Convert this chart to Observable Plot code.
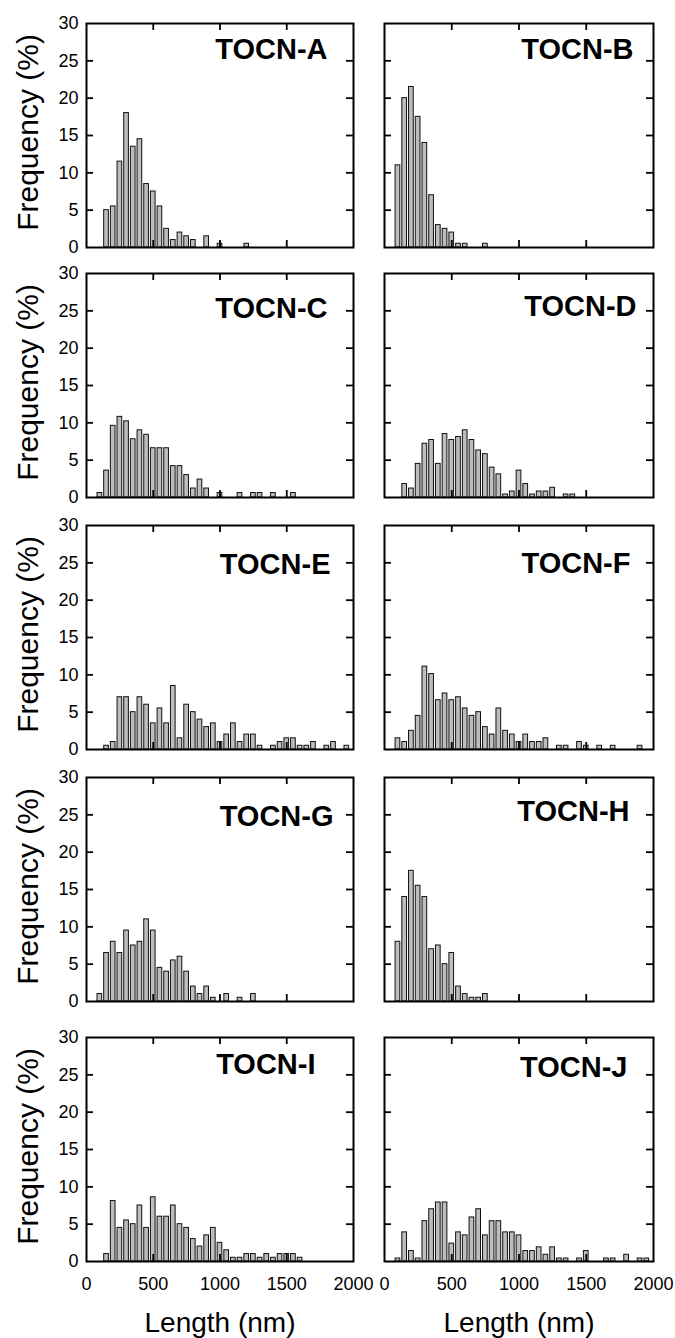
<!DOCTYPE html>
<html><head><meta charset="utf-8">
<script src="https://cdn.jsdelivr.net/npm/d3@7"></script>
<script src="https://cdn.jsdelivr.net/npm/@observablehq/plot@0.6"></script>
<style>
body{margin:0;background:#fff;}
#root{position:relative;width:675px;height:1338px;overflow:hidden;font-family:"Liberation Sans",Arial,sans-serif;}
#root svg{position:absolute;}
</style></head><body><div id="root"></div>
<script>
// ---- data ----
const names = ["TOCN-A","TOCN-B","TOCN-C","TOCN-D","TOCN-E","TOCN-F","TOCN-G","TOCN-H","TOCN-I","TOCN-J"];
const lenA = [150,200,250,300,350,400,450,500,550,600,650,700,750,800,900,1000,1200];
const pctA = [5.0,5.5,11.5,18.0,13.5,14.5,8.5,7.5,5.5,2.5,1.0,2.0,1.5,1.0,1.5,0.5,0.5];
const lenB = [100,150,200,250,300,350,400,450,500,550,600,750];
const pctB = [11,20,21.5,17.5,14,7,3,2.5,2,0.5,0.5,0.5];
const lenC = [100,150,200,250,300,350,400,450,500,550,600,650,700,750,800,850,900,1000,1150,1250,1300,1400,1550];
const pctC = [0.6,3.6,9.6,10.8,10.2,7.8,9.0,8.4,6.6,6.6,6.6,4.2,4.2,3.0,1.2,2.4,1.2,0.6,0.6,0.6,0.6,0.6,0.6];
const lenD = [150,200,250,300,350,400,450,500,550,600,650,700,750,800,850,900,950,1000,1050,1100,1150,1200,1250,1350,1400];
const pctD = [1.8,1.2,4.5,7.2,7.7,4.5,8.5,7.7,8.1,9.0,7.7,6.3,5.8,4.0,3.1,0.4,0.8,3.6,1.8,0.4,0.8,0.8,1.3,0.4,0.4];
const lenE = [150,200,250,300,350,400,450,500,550,600,650,700,750,800,850,900,950,1000,1050,1100,1150,1200,1250,1300,1400,1450,1500,1550,1600,1650,1700,1800,1850,1950];
const pctE = [0.5,1.0,7.0,7.0,5.0,7.0,6.0,3.5,5.5,3.5,8.5,1.5,6.0,5.0,4.0,3.0,3.5,1.0,2.0,3.5,1.0,2.0,2.0,0.5,0.5,1.0,1.5,1.5,0.5,0.5,1.0,0.5,1.0,0.5];
const lenF = [100,150,200,250,300,350,400,450,500,550,600,650,700,750,800,850,900,950,1000,1050,1100,1150,1200,1300,1350,1450,1500,1600,1700,1900];
const pctF = [1.5,1.0,2.5,4.5,11.1,10.1,6.6,7.5,6.6,7.0,5.5,4.5,5.0,3.0,2.0,5.5,2.5,2.0,1.0,2.0,1.0,1.0,1.5,0.5,0.5,1.0,0.5,0.5,0.5,0.5];
const lenG = [100,150,200,250,300,350,400,450,500,550,600,650,700,750,800,850,900,950,1050,1150,1250];
const pctG = [1.0,6.5,8.0,6.5,9.5,7.5,8.0,11.0,9.5,4.5,4.0,5.5,6.0,4.0,2.0,1.0,2.0,0.5,1.0,0.5,1.0];
const lenH = [100,150,200,250,300,350,400,450,500,550,600,650,700,750];
const pctH = [8.0,14.0,17.5,15.5,14.0,7.0,7.5,5.0,6.5,2.0,1.0,0.5,0.5,1.0];
const lenI = [150,200,250,300,350,400,450,500,550,600,650,700,750,800,850,900,950,1000,1050,1100,1150,1200,1250,1300,1350,1400,1450,1500,1550,1600];
const pctI = [1.0,8.1,4.5,5.5,5.0,7.5,4.5,8.6,6.0,6.0,7.5,5.0,4.5,3.0,2.0,3.5,4.5,2.5,1.5,0.5,0.5,1.0,1.0,0.5,1.0,0.5,1.0,1.0,1.0,0.5];
const lenJ = [100,150,200,250,300,350,400,450,500,550,600,650,700,750,800,850,900,950,1000,1050,1100,1150,1200,1250,1300,1350,1450,1500,1650,1700,1800,1900,1950];
const pctJ = [0.4,3.9,1.4,0.4,5.4,7.0,7.9,7.9,2.4,3.9,3.5,5.9,7.0,3.5,5.4,5.4,3.9,3.9,3.5,1.4,1.4,1.9,0.9,1.9,0.4,0.4,0.4,1.4,0.4,0.4,0.9,0.4,0.4];
const xTicks = [0,500,1000,1500,2000];
const yTicks = [0,5,10,15,20,25,30];
const xLabel = "Length (nm)";
const yLabel = "Frequency (%)";

// ---- layout ----
const lens = [lenA,lenB,lenC,lenD,lenE,lenF,lenG,lenH,lenI,lenJ];
const pcts = [pctA,pctB,pctC,pctD,pctE,pctF,pctG,pctH,pctI,pctJ];
const FONT = "'Liberation Sans', Arial, sans-serif";
const colFrameLeft = [86, 384];
const colFrameW = [267, 269];
const rowFrameTop = [23, 273, 525, 777, 1037];
const frameH = 224;
const titleInset = [26,20,26,17,23,23,20,24,38,26];
const titleBase = [35,35,44,42,48,47,48,43,36,39];
const HALF = 17.5; // half bar width in nm
const TICK = 7;

const root = document.getElementById("root");
names.forEach((name, i) => {
  const col = i % 2, row = Math.floor(i / 2);
  const bottomRow = row === 4;
  const fw = colFrameW[col];
  const marginLeft = col === 0 ? 86 : 18;
  const marginRight = col === 0 ? 17 : 22;
  const marginTop = 6;
  const marginBottom = bottomRow ? 80 : 6;
  const svgLeft = colFrameLeft[col] - marginLeft;
  const svgTop = rowFrameTop[row] - marginTop;
  const data = lens[i].map((l, k) => ({len: l, pct: pcts[i][k]}));
  const xInner = xTicks.slice(1, -1), yInner = yTicks.slice(1, -1);
  const marks = [
    Plot.rect(data, {x1: d => d.len - HALF, x2: d => d.len + HALF, y1: 0, y2: "pct", fill: "#bdbdbd", stroke: "#111", strokeWidth: 1}),
    Plot.tickX(xInner, {x: d => d, insetTop: frameH - TICK, stroke: "black", strokeWidth: 1.8}),
    Plot.tickX(xInner, {x: d => d, insetBottom: frameH - TICK, stroke: "black", strokeWidth: 1.8}),
    Plot.tickY(yInner, {y: d => d, insetRight: fw - TICK, stroke: "black", strokeWidth: 1.8}),
    Plot.tickY(yInner, {y: d => d, insetLeft: fw - TICK, stroke: "black", strokeWidth: 1.8}),
    Plot.frame({stroke: "black", strokeWidth: 2}),
    Plot.text([name], {text: d => d, frameAnchor: "top-right", textAnchor: "end", lineAnchor: "bottom", dx: -titleInset[i], dy: titleBase[i], fontSize: 29, fontWeight: "bold", fill: "black"})
  ];
  if (col === 0) {
    marks.push(Plot.axisY({anchor: "left", ticks: yTicks, tickSize: 0, tickPadding: 8, fontSize: 18, tickFormat: d => `${d}`, label: null}));
    marks.push(Plot.text([yLabel], {text: d => d, frameAnchor: "left", textAnchor: "middle", lineAnchor: "middle", rotate: -90, dx: -58, dy: -3, fontSize: 30, fill: "black"}));
  }
  if (bottomRow) {
    marks.push(Plot.axisX({anchor: "bottom", ticks: xTicks, tickSize: 0, tickPadding: 16, fontSize: 18, tickFormat: d => `${d}`, label: null}));
    marks.push(Plot.text([xLabel], {text: d => d, frameAnchor: "bottom", textAnchor: "middle", lineAnchor: "middle", dy: 62, fontSize: 28, fill: "black"}));
  }
  const svg = Plot.plot({
    width: marginLeft + fw + marginRight,
    height: marginTop + frameH + marginBottom,
    marginLeft, marginRight, marginTop, marginBottom,
    x: {domain: [0, 2000], axis: null},
    y: {domain: [0, 30], axis: null},
    style: {background: "transparent", overflow: "visible", fontFamily: FONT, fontSize: "18px", color: "black"},
    marks
  });
  svg.style.left = svgLeft + "px";
  svg.style.top = svgTop + "px";
  root.appendChild(svg);
});
</script>
</body></html>
